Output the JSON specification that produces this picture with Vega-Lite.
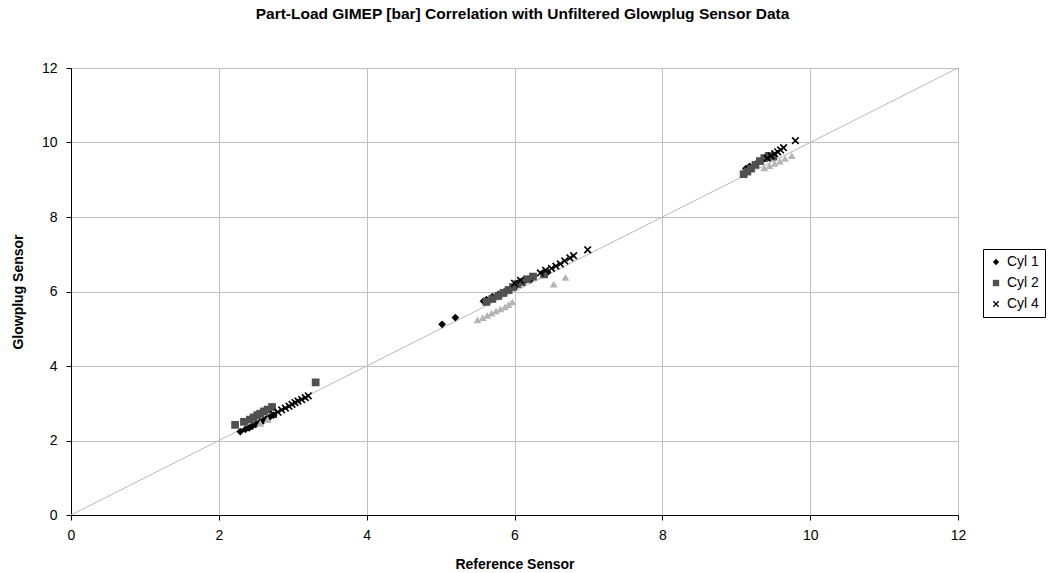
{
  "$schema": "https://vega.github.io/schema/vega-lite/v6.json",
  "width": 887,
  "height": 447,
  "autosize": {"type": "none"},
  "padding": {"left": 71, "top": 68, "right": 91, "bottom": 58},
  "background": "white",
  "config": {
    "font": "Liberation Sans",
    "view": {"stroke": "black", "strokeWidth": 1},
    "axis": {
      "domainColor": "black",
      "tickColor": "black",
      "tickSize": 5,
      "gridColor": "#c0c0c0",
      "gridWidth": 1,
      "labelFont": "Liberation Sans",
      "labelFontSize": 14,
      "labelColor": "black",
      "labelFlush": false,
      "labelOverlap": false,
      "format": "d",
      "titleFont": "Liberation Sans",
      "titleFontSize": 14,
      "titleFontWeight": "bold",
      "titleColor": "black"
    }
  },
  "title": {
    "text": "Part-Load GIMEP [bar] Correlation with Unfiltered Glowplug Sensor Data",
    "fontSize": 15.5,
    "fontWeight": "bold",
    "font": "Liberation Sans",
    "color": "black",
    "offset": 39,
    "dx": 8
  },
  "layer": [
    {
      "data": {"values": [{"x": 0, "y": 0}, {"x": 12, "y": 12}]},
      "mark": {"type": "line", "color": "#b8b8b8", "strokeWidth": 1},
      "encoding": {
        "x": {"field": "x", "type": "quantitative", "scale": {"domain": [0, 12]},
              "axis": {"values": [0, 2, 4, 6, 8, 10, 12], "title": "Reference Sensor", "titlePadding": 15, "labelPadding": 8}},
        "y": {"field": "y", "type": "quantitative", "scale": {"domain": [0, 12]},
              "axis": {"values": [0, 2, 4, 6, 8, 10, 12], "title": "Glowplug Sensor", "titlePadding": 16, "labelPadding": 9}}
      }
    },
    {
      "data": {"values": [
        {"s": "Cyl 1", "x": 2.29, "y": 2.24},
        {"s": "Cyl 1", "x": 2.36, "y": 2.3},
        {"s": "Cyl 1", "x": 2.41, "y": 2.34},
        {"s": "Cyl 1", "x": 2.45, "y": 2.38},
        {"s": "Cyl 1", "x": 2.5, "y": 2.43},
        {"s": "Cyl 1", "x": 2.55, "y": 2.48},
        {"s": "Cyl 1", "x": 2.6, "y": 2.53},
        {"s": "Cyl 1", "x": 2.64, "y": 2.58},
        {"s": "Cyl 1", "x": 2.69, "y": 2.63},
        {"s": "Cyl 1", "x": 2.74, "y": 2.68},
        {"s": "Cyl 1", "x": 5.02, "y": 5.12},
        {"s": "Cyl 1", "x": 5.2, "y": 5.3},
        {"s": "Cyl 1", "x": 5.58, "y": 5.74},
        {"s": "Cyl 1", "x": 5.62, "y": 5.78},
        {"s": "Cyl 1", "x": 5.7, "y": 5.86},
        {"s": "Cyl 1", "x": 5.78, "y": 5.92},
        {"s": "Cyl 1", "x": 5.86, "y": 5.99},
        {"s": "Cyl 1", "x": 5.94, "y": 6.06},
        {"s": "Cyl 1", "x": 6.02, "y": 6.14},
        {"s": "Cyl 1", "x": 6.12, "y": 6.24},
        {"s": "Cyl 1", "x": 6.22, "y": 6.32},
        {"s": "Cyl 1", "x": 6.45, "y": 6.52},
        {"s": "Cyl 1", "x": 9.13, "y": 9.3},
        {"s": "Cyl 1", "x": 9.18, "y": 9.36},
        {"s": "Cyl 1", "x": 9.26, "y": 9.42},
        {"s": "Cyl 1", "x": 9.34, "y": 9.5},
        {"s": "Cyl 1", "x": 9.42, "y": 9.58},
        {"s": "Cyl 1", "x": 9.5, "y": 9.64},
        {"s": "Cyl 2", "x": 2.22, "y": 2.42},
        {"s": "Cyl 2", "x": 2.34, "y": 2.5},
        {"s": "Cyl 2", "x": 2.42, "y": 2.56},
        {"s": "Cyl 2", "x": 2.47, "y": 2.62},
        {"s": "Cyl 2", "x": 2.52, "y": 2.68},
        {"s": "Cyl 2", "x": 2.56, "y": 2.72},
        {"s": "Cyl 2", "x": 2.61, "y": 2.78},
        {"s": "Cyl 2", "x": 2.66, "y": 2.83},
        {"s": "Cyl 2", "x": 2.72, "y": 2.9},
        {"s": "Cyl 2", "x": 3.31, "y": 3.56},
        {"s": "Cyl 2", "x": 5.62, "y": 5.72},
        {"s": "Cyl 2", "x": 5.7, "y": 5.8},
        {"s": "Cyl 2", "x": 5.78, "y": 5.88},
        {"s": "Cyl 2", "x": 5.85, "y": 5.96},
        {"s": "Cyl 2", "x": 5.92, "y": 6.04},
        {"s": "Cyl 2", "x": 5.98, "y": 6.12},
        {"s": "Cyl 2", "x": 6.04, "y": 6.2},
        {"s": "Cyl 2", "x": 6.1, "y": 6.26},
        {"s": "Cyl 2", "x": 6.17, "y": 6.33},
        {"s": "Cyl 2", "x": 6.25, "y": 6.4},
        {"s": "Cyl 2", "x": 6.4, "y": 6.46},
        {"s": "Cyl 2", "x": 9.1, "y": 9.15},
        {"s": "Cyl 2", "x": 9.15, "y": 9.22},
        {"s": "Cyl 2", "x": 9.2, "y": 9.3},
        {"s": "Cyl 2", "x": 9.26, "y": 9.4},
        {"s": "Cyl 2", "x": 9.32, "y": 9.5},
        {"s": "Cyl 2", "x": 9.38, "y": 9.58},
        {"s": "Cyl 2", "x": 9.44, "y": 9.64},
        {"s": "Cyl 2", "x": 9.5, "y": 9.62},
        {"s": "Cyl 3", "x": 2.56, "y": 2.46},
        {"s": "Cyl 3", "x": 2.66, "y": 2.56},
        {"s": "Cyl 3", "x": 5.5, "y": 5.24},
        {"s": "Cyl 3", "x": 5.57, "y": 5.3},
        {"s": "Cyl 3", "x": 5.63, "y": 5.36},
        {"s": "Cyl 3", "x": 5.69, "y": 5.42},
        {"s": "Cyl 3", "x": 5.75, "y": 5.48},
        {"s": "Cyl 3", "x": 5.81, "y": 5.53},
        {"s": "Cyl 3", "x": 5.87, "y": 5.59},
        {"s": "Cyl 3", "x": 5.92, "y": 5.65},
        {"s": "Cyl 3", "x": 5.97, "y": 5.72},
        {"s": "Cyl 3", "x": 6.53, "y": 6.2},
        {"s": "Cyl 3", "x": 6.69, "y": 6.38},
        {"s": "Cyl 3", "x": 9.38, "y": 9.32},
        {"s": "Cyl 3", "x": 9.45, "y": 9.38},
        {"s": "Cyl 3", "x": 9.52, "y": 9.44},
        {"s": "Cyl 3", "x": 9.59, "y": 9.5},
        {"s": "Cyl 3", "x": 9.66, "y": 9.57},
        {"s": "Cyl 3", "x": 9.75, "y": 9.65},
        {"s": "Cyl 4", "x": 2.74, "y": 2.7},
        {"s": "Cyl 4", "x": 2.8, "y": 2.76},
        {"s": "Cyl 4", "x": 2.85, "y": 2.82},
        {"s": "Cyl 4", "x": 2.9, "y": 2.87},
        {"s": "Cyl 4", "x": 2.95, "y": 2.92},
        {"s": "Cyl 4", "x": 2.99, "y": 2.97},
        {"s": "Cyl 4", "x": 3.03, "y": 3.02},
        {"s": "Cyl 4", "x": 3.07, "y": 3.06},
        {"s": "Cyl 4", "x": 3.12, "y": 3.1},
        {"s": "Cyl 4", "x": 3.17, "y": 3.15},
        {"s": "Cyl 4", "x": 3.21, "y": 3.2},
        {"s": "Cyl 4", "x": 6.0, "y": 6.22},
        {"s": "Cyl 4", "x": 6.08, "y": 6.3},
        {"s": "Cyl 4", "x": 6.35, "y": 6.5},
        {"s": "Cyl 4", "x": 6.42, "y": 6.57},
        {"s": "Cyl 4", "x": 6.5, "y": 6.62},
        {"s": "Cyl 4", "x": 6.56, "y": 6.68},
        {"s": "Cyl 4", "x": 6.62, "y": 6.74},
        {"s": "Cyl 4", "x": 6.68, "y": 6.82},
        {"s": "Cyl 4", "x": 6.75, "y": 6.9},
        {"s": "Cyl 4", "x": 6.8, "y": 6.96},
        {"s": "Cyl 4", "x": 6.99, "y": 7.12},
        {"s": "Cyl 4", "x": 9.42, "y": 9.58},
        {"s": "Cyl 4", "x": 9.47, "y": 9.64},
        {"s": "Cyl 4", "x": 9.52, "y": 9.7},
        {"s": "Cyl 4", "x": 9.56, "y": 9.75},
        {"s": "Cyl 4", "x": 9.6, "y": 9.8},
        {"s": "Cyl 4", "x": 9.64, "y": 9.86},
        {"s": "Cyl 4", "x": 9.8, "y": 10.05}
      ]},
      "mark": {"type": "point", "filled": true, "opacity": 1, "size": 60},
      "encoding": {
        "x": {"field": "x", "type": "quantitative"},
        "y": {"field": "y", "type": "quantitative"},
        "color": {
          "field": "s", "type": "nominal",
          "scale": {"domain": ["Cyl 1", "Cyl 2", "Cyl 3", "Cyl 4"], "range": ["#000000", "#505050", "#b4b4b4", "#000000"]},
          "legend": {
            "values": ["Cyl 1", "Cyl 2", "Cyl 4"],
            "title": null,
            "orient": "none",
            "legendX": 912,
            "legendY": 181,
            "strokeColor": "black",
            "fillColor": "white",
            "padding": 6,
            "labelFont": "Liberation Sans",
            "labelFontSize": 14,
            "labelColor": "black",
            "symbolSize": 40,
            "rowPadding": 7,
            "labelOffset": 4
          }
        },
        "shape": {
          "field": "s", "type": "nominal",
          "scale": {"domain": ["Cyl 1", "Cyl 2", "Cyl 3", "Cyl 4"], "range": ["diamond", "square", "triangle-up", "M-1,-0.7L-0.7,-1L0,-0.3L0.7,-1L1,-0.7L0.3,0L1,0.7L0.7,1L0,0.3L-0.7,1L-1,0.7L-0.3,0Z"]},
          "legend": {
            "values": ["Cyl 1", "Cyl 2", "Cyl 4"],
            "title": null,
            "orient": "none",
            "legendX": 912,
            "legendY": 181,
            "strokeColor": "black",
            "fillColor": "white",
            "padding": 6,
            "labelFont": "Liberation Sans",
            "labelFontSize": 14,
            "labelColor": "black",
            "symbolSize": 40,
            "rowPadding": 7,
            "labelOffset": 4
          }
        }
      }
    }
  ]
}
